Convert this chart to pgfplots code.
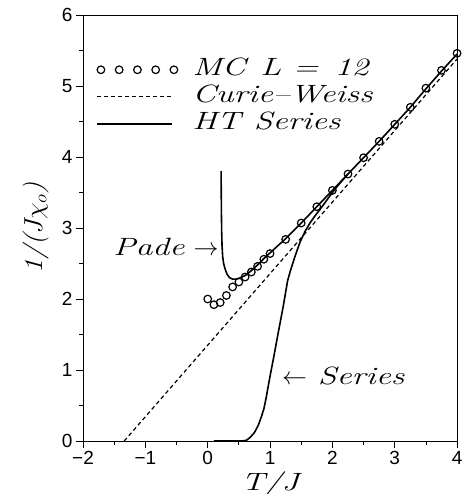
\documentclass[border=0pt]{standalone}
\usepackage{pgfplots}
\pgfplotsset{compat=1.18}
\usepackage{graphicx}
\usepackage{fontspec}
\setsansfont{Liberation Sans}

% wide italic annotation text
\newcommand\lt[1]{\scalebox{1.35}[1]{\fontsize{25}{30}\selectfont\itshape #1}}

\pgfplotsset{
  lineleg/.style={legend image code/.code={\draw[##1] (0pt,0pt) -- (75pt,0pt);}},
  circleg/.style={legend image code/.code={%
    \foreach \k in {0,1,2,3,4}{\draw[line width=1.2pt] (3.8pt+\k*18.25pt,0pt) circle[radius=3.8pt];}}},
}

\begin{document}
\begin{tikzpicture}
\begin{axis}[
  width=374pt, height=426pt, scale only axis,
  xmin=-2, xmax=4, ymin=0, ymax=6,
  xtick={-2,-1,0,1,2,3,4},
  xticklabels={−2,−1,0,1,2,3,4},
  ytick={0,1,2,3,4,5,6},
  yticklabels={0,1,2,3,4,5,6},
  minor x tick num=1, minor y tick num=1,
  xtick pos=bottom, ytick pos=left,
  tick align=outside,
  major tick length=7pt, minor tick length=4pt,
  every tick/.style={black, line width=0.8pt},
  axis line style={line width=0.9pt},
  tick label style={font=\sffamily\fontsize{19}{20}\selectfont},
  /pgf/number format/assume math mode=true,
  xlabel={\lt{T/J}},
  xlabel style={at={(axis description cs:0.5,0)}, anchor=base, yshift=-49pt},
  ylabel={\scalebox{1.08}[1]{\fontsize{26}{30}\selectfont\itshape 1/(J$\chi_o$)}},
  ylabel style={at={(axis description cs:-0.125,0.5)}, anchor=center},
  clip=false,
  legend cell align=left,
  legend style={at={(rel axis cs:0.035,0.90)}, anchor=north west,
    draw=none, fill=none, inner sep=0pt, row sep=3pt,
    nodes={inner sep=0pt, text height=18pt, text depth=6pt},
    /tikz/every odd column/.append style={column sep=14pt}},
]
% Monte Carlo data, L = 12
\addplot[only marks, mark=o, mark size=3.8pt, mark options={line width=1.2pt},
  circleg] coordinates {
  (0.0,2.00) (0.1,1.92) (0.2,1.95) (0.3,2.05) (0.4,2.17) (0.5,2.24)
  (0.6,2.31) (0.7,2.38) (0.8,2.46) (0.9,2.56) (1.0,2.64)
  (1.25,2.84) (1.5,3.07) (1.75,3.30) (2.0,3.53) (2.25,3.76) (2.5,3.99)
  (2.75,4.22) (3.0,4.46) (3.25,4.70) (3.5,4.97) (3.75,5.22) (4.0,5.46)
};
\addlegendentry{\lt{MC\hspace{11pt}L\hspace{9pt}=\hspace{12pt}12}}

% Curie-Weiss law
\addplot[black, line width=1.2pt, dash pattern=on 4pt off 3pt, lineleg]
  coordinates {(-1.34,0) (4,5.38)};
\addlegendentry{\lt{Curie--Weiss}}

% high-temperature series, Pade branch
\addplot[black, line width=1.6pt, lineleg]
  coordinates {
  (0.215,3.80) (0.217,3.50) (0.220,3.20) (0.224,2.95) (0.230,2.75)
  (0.240,2.60) (0.255,2.50) (0.28,2.42) (0.31,2.35) (0.35,2.30)
  (0.40,2.28) (0.45,2.28) (0.50,2.29) (0.60,2.33) (0.70,2.40)
  (0.80,2.48) (0.90,2.57) (1.00,2.65) (1.25,2.85) (1.50,3.07)
  (1.75,3.30) (2.00,3.53) (2.25,3.76) (2.50,3.99) (2.75,4.22)
  (3.00,4.46) (3.25,4.70) (3.50,4.96) (3.75,5.21) (4.00,5.45)
};
\addlegendentry{\lt{HT\hspace{10pt}Series}}

% high-temperature series, bare branch
\addplot[black, line width=1.6pt, forget plot] coordinates {
  (0.10,0.0) (0.55,0.0) (0.62,0.01) (0.68,0.05) (0.75,0.12) (0.81,0.22)
  (0.86,0.34) (0.90,0.45) (0.94,0.62) (0.97,0.77) (1.01,0.96)
  (1.05,1.14) (1.13,1.52) (1.21,1.89) (1.28,2.25) (1.32,2.38)
  (1.40,2.60) (1.48,2.80) (1.56,2.95) (1.64,3.07) (1.72,3.17)
  (1.80,3.26) (1.90,3.38) (2.00,3.50) (2.10,3.61) (2.25,3.76)
};

\node[anchor=base east, inner sep=0pt] at (axis cs:0.175,2.61)
  {\lt{Pade}\hspace{9pt}{\fontsize{25}{30}\selectfont$\rightarrow$}};
\node[anchor=base west, inner sep=0pt] at (axis cs:1.19,0.79)
  {{\fontsize{25}{30}\selectfont$\leftarrow$}\hspace{11pt}\lt{Series}};

\coordinate (bl) at (axis cs:-3.332,-0.746);
\coordinate (tr) at (axis cs:4.13,6.211);
\end{axis}
\pgfresetboundingbox
\path[use as bounding box] (bl) rectangle (tr);
\end{tikzpicture}
\end{document}
